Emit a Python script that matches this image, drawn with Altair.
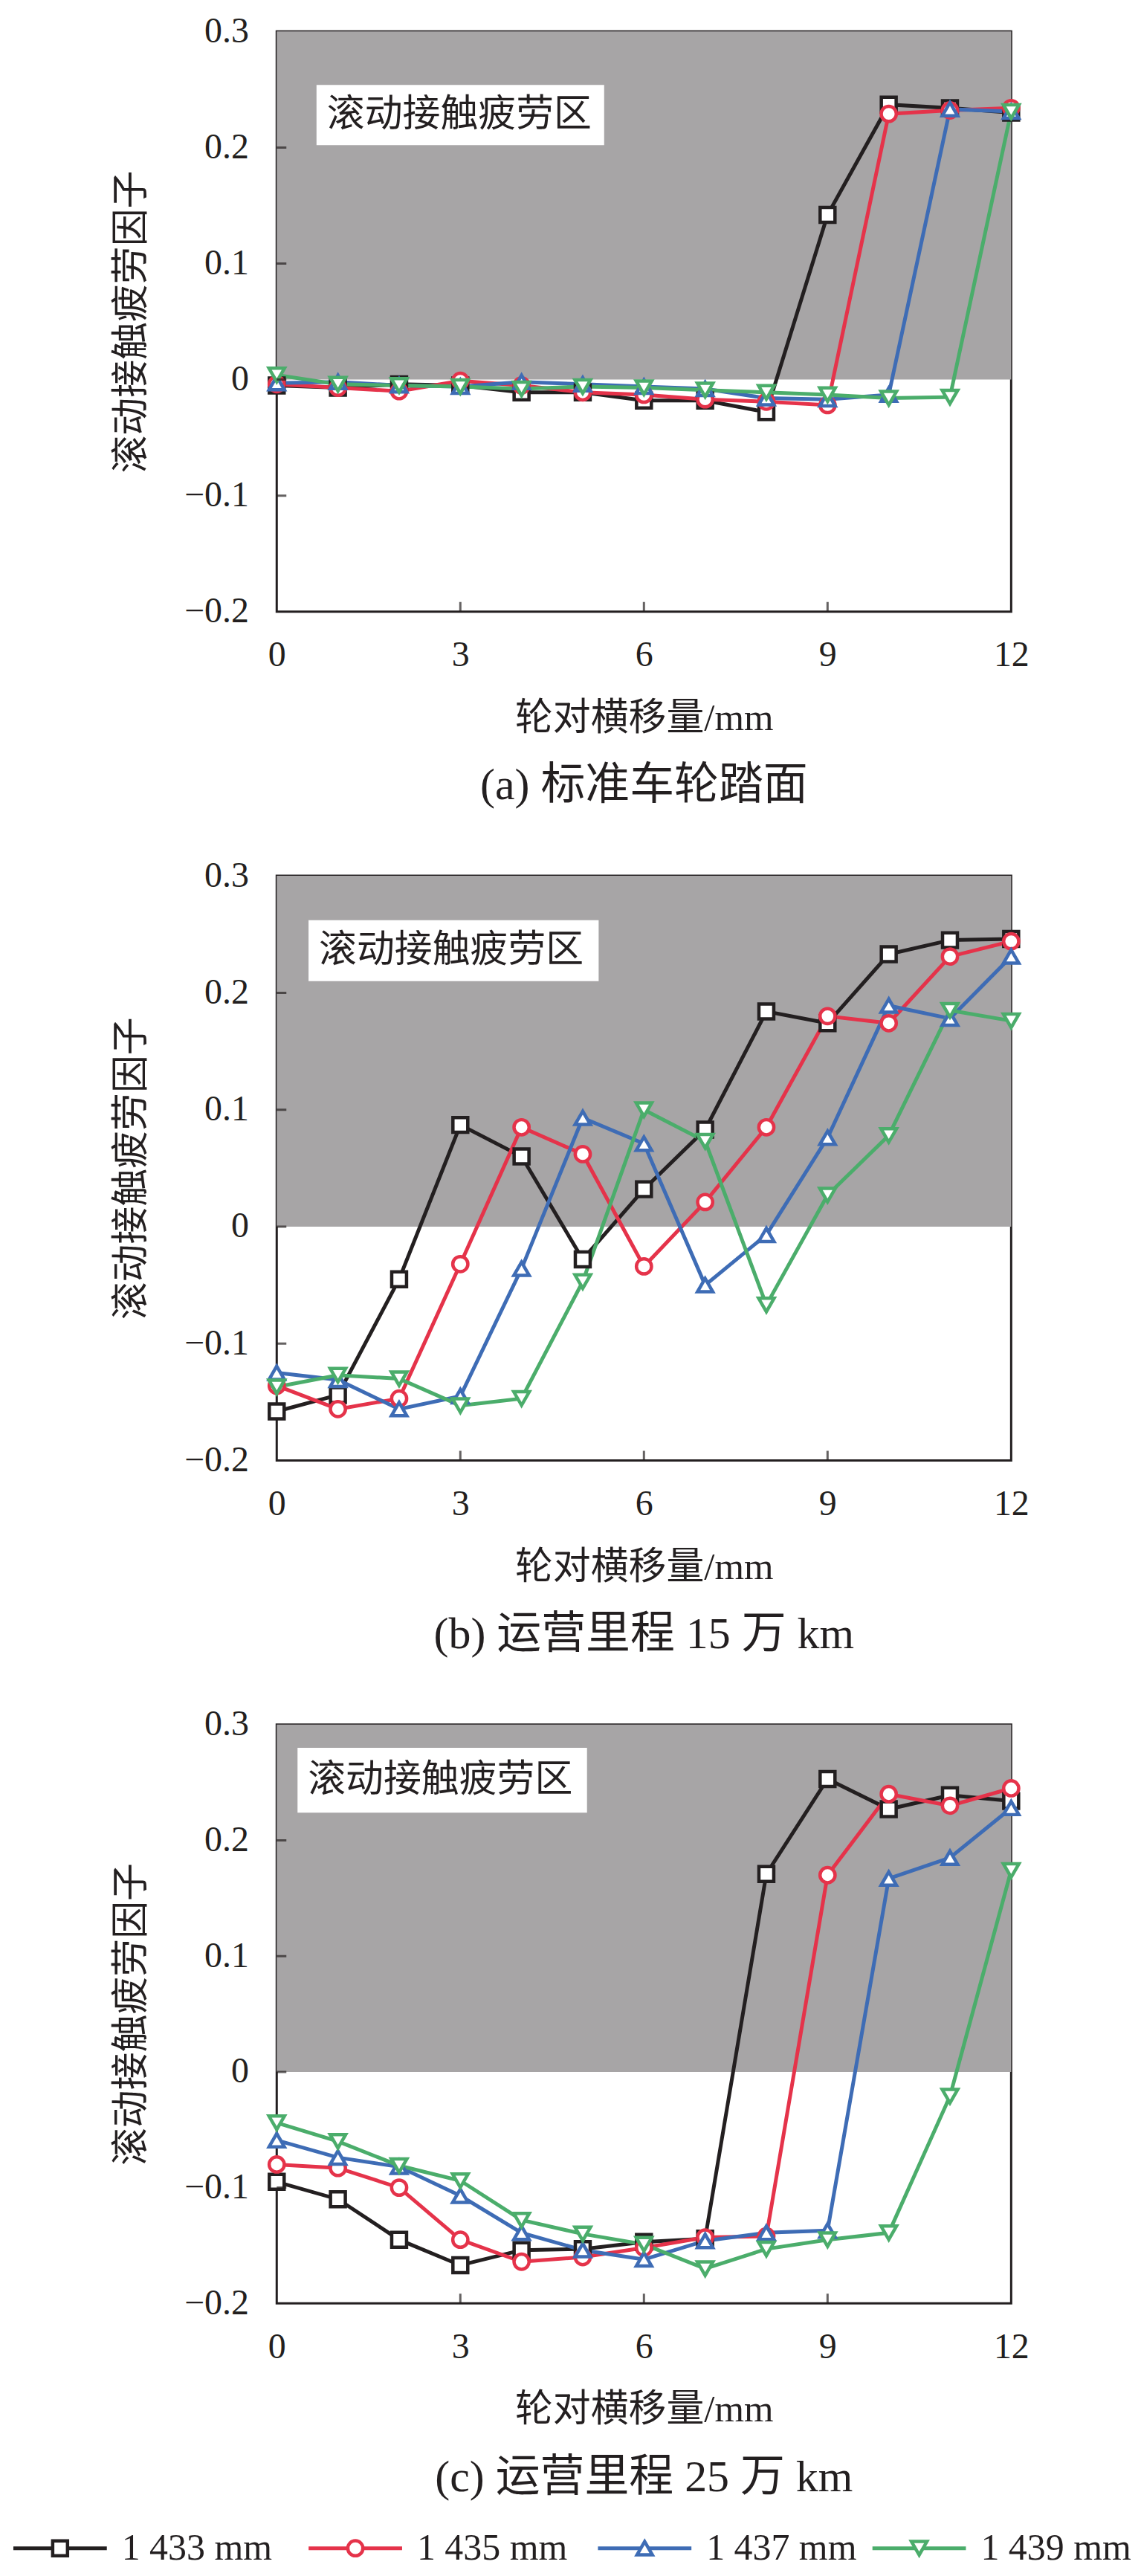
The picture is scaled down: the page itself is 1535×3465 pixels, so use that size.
import altair as alt
import pandas as pd

X = list(range(13))
SERIES = ["1 433 mm", "1 435 mm", "1 437 mm", "1 439 mm"]
COLORS = ["#231f20", "#e5334a", "#3e6cb5", "#4bad6b"]
SHAPES = ["square", "circle", "triangle-up", "triangle-down"]
SIZES = [400, 440, 620, 620]

# (a) standard wheel tread
A_1433 = [-0.005, -0.007, -0.004, -0.005, -0.011, -0.011, -0.018, -0.018, -0.028, 0.142, 0.237, 0.234, 0.230]
A_1435 = [-0.004, -0.007, -0.010, -0.001, -0.005, -0.011, -0.013, -0.017, -0.019, -0.022, 0.229, 0.232, 0.234]
A_1437 = [-0.003, -0.002, -0.005, -0.006, -0.002, -0.004, -0.006, -0.008, -0.016, -0.017, -0.013, 0.233, 0.231]
A_1439 = [0.004, -0.004, -0.005, -0.006, -0.008, -0.006, -0.007, -0.009, -0.011, -0.013, -0.016, -0.015, 0.231]

# (b) 150 000 km
B_1433 = [-0.158, -0.144, -0.045, 0.087, 0.060, -0.028, 0.032, 0.083, 0.184, 0.174, 0.233, 0.245, 0.246]
B_1435 = [-0.136, -0.156, -0.147, -0.032, 0.085, 0.062, -0.034, 0.021, 0.085, 0.180, 0.174, 0.231, 0.244]
B_1437 = [-0.125, -0.131, -0.156, -0.145, -0.036, 0.093, 0.071, -0.050, -0.007, 0.076, 0.189, 0.178, 0.231]
B_1439 = [-0.137, -0.127, -0.130, -0.153, -0.147, -0.047, 0.100, 0.073, -0.067, 0.027, 0.078, 0.185, 0.176]

# (c) 250 000 km
C_1433 = [-0.095, -0.110, -0.145, -0.167, -0.154, -0.153, -0.147, -0.144, 0.171, 0.253, 0.227, 0.239, 0.234]
C_1435 = [-0.080, -0.083, -0.100, -0.145, -0.164, -0.160, -0.152, -0.143, -0.142, 0.170, 0.240, 0.230, 0.245]
C_1437 = [-0.059, -0.074, -0.082, -0.107, -0.139, -0.154, -0.162, -0.146, -0.139, -0.137, 0.167, 0.185, 0.228]
C_1439 = [-0.044, -0.060, -0.081, -0.094, -0.128, -0.140, -0.149, -0.170, -0.153, -0.145, -0.139, -0.021, 0.174]

CAPTIONS = ["(a) 标准车轮踏面", "(b) 运营里程 15 万 km", "(c) 运营里程 25 万 km"]
ZONE_LABEL = "滚动接触疲劳区"
BOX_X0 = [0.65, 0.52, 0.34]
BOX_X1 = [5.35, 5.26, 5.07]
BOX_Y0 = [0.202, 0.210, 0.224]
BOX_Y1 = [0.254, 0.262, 0.280]
X_TICKS = [0, 3, 6, 9, 12]
Y_TICKS = [-0.2, -0.1, 0, 0.1, 0.2, 0.3]
X_INNER = [3, 6, 9]
Y_INNER = [-0.1, 0, 0.1, 0.2]
X_TITLE = "轮对横移量/mm"
Y_TITLE = "滚动接触疲劳因子"

BLACK = "#231f20"
GRAY = "#a7a5a6"
FONT = "Liberation Serif, Noto Sans CJK SC"
W = 990
HEIGHTS = [782, 788, 780]

color_scale = alt.Scale(domain=SERIES, range=COLORS)
shape_scale = alt.Scale(domain=SERIES, range=SHAPES)
size_scale = alt.Scale(domain=SERIES, range=SIZES)

XS = alt.Scale(domain=[0, 12], nice=False, zero=False)
YS = alt.Scale(domain=[-0.2, 0.3], nice=False, zero=False)
XAXIS = alt.Axis(values=X_TICKS, format="d", title=X_TITLE, domain=False, ticks=False,
                 grid=False, labelFontSize=48, labelPadding=35, titleFontSize=51,
                 titlePadding=36, labelFlush=False)
YAXIS = alt.Axis(values=Y_TICKS, format=".1~f", title=Y_TITLE, domain=False, ticks=False,
                 grid=False, labelFontSize=48, labelPadding=38, titleFontSize=51,
                 titlePadding=44, labelFlush=False)


def ex(field):
    return alt.X(field, scale=XS, axis=XAXIS)


def ey(field):
    return alt.Y(field, scale=YS, axis=YAXIS)


def panel(vals, i):
    rows = []
    for s, v in zip(SERIES, vals):
        for x, y in zip(X, v):
            rows.append({"series": s, "x": x, "y": y})
    df = pd.DataFrame(rows)

    zone_df = pd.DataFrame({"x0": [X_TICKS[0]], "x1": [X_TICKS[-1]], "y0": [0.0], "y1": [Y_TICKS[-1]]})
    zone = alt.Chart(zone_df).mark_rect(color=GRAY).encode(
        x=ex("x0:Q"), x2="x1:Q", y=ey("y0:Q"), y2="y1:Q")

    box_df = pd.DataFrame({"x0": [BOX_X0[i]], "x1": [BOX_X1[i]], "y0": [BOX_Y0[i]],
                           "y1": [BOX_Y1[i]], "ym": [(BOX_Y0[i] + BOX_Y1[i]) / 2],
                           "t": [ZONE_LABEL]})
    box = alt.Chart(box_df).mark_rect(color="white").encode(
        x=ex("x0:Q"), x2="x1:Q", y=ey("y0:Q"), y2="y1:Q")
    box_text = alt.Chart(box_df).mark_text(align="left", baseline="middle", dx=14,
                                           fontSize=51, font=FONT, color=BLACK).encode(
        x=ex("x0:Q"), y=ey("ym:Q"), text="t:N")

    lines = alt.Chart(df).mark_line(strokeWidth=5).encode(
        x=ex("x:Q"), y=ey("y:Q"),
        color=alt.Color("series:N", scale=color_scale, legend=None),
        detail="series:N")
    points = alt.Chart(df).mark_point(filled=False, fill="white", fillOpacity=1, opacity=1,
                                      strokeWidth=4.5).encode(
        x=ex("x:Q"), y=ey("y:Q"),
        color=alt.Color("series:N", scale=color_scale, legend=None),
        shape=alt.Shape("series:N", scale=shape_scale, legend=None),
        size=alt.Size("series:O", scale=size_scale, sort=SERIES, legend=None))

    xt_df = pd.DataFrame({"t": X_INNER, "b": [Y_TICKS[0]] * len(X_INNER)})
    xt = alt.Chart(xt_df).mark_tick(
        orient="vertical", size=26, thickness=3, clip=True, color=BLACK).encode(
        x=ex("t:Q"), y=ey("b:Q"))
    yt_df = pd.DataFrame({"t": Y_INNER, "b": [X_TICKS[0]] * len(Y_INNER)})
    yt = alt.Chart(yt_df).mark_tick(
        orient="horizontal", size=26, thickness=3, clip=True, color=BLACK).encode(
        y=ey("t:Q"), x=ex("b:Q"))

    return alt.layer(zone, box, box_text, lines, points, xt, yt).properties(
        width=W, height=HEIGHTS[i],
        title=alt.TitleParams(CAPTIONS[i], orient="bottom", anchor="middle", fontSize=60,
                              offset=37, font=FONT, fontWeight="normal", color=BLACK))


pa = panel([A_1433, A_1435, A_1437, A_1439], 0)
pb = panel([B_1433, B_1435, B_1437, B_1439], 1)
pc = panel([C_1433, C_1435, C_1437, C_1439], 2)

leg_df = pd.DataFrame({"series": SERIES, "idx": list(range(len(SERIES)))})
lx = alt.Scale(domain=[0, 1, 2, 3], range=[-355, 43, 433, 803], zero=False, nice=False)
lbase = alt.Chart(leg_df)
l_rule = lbase.mark_rule(strokeWidth=5, x2Offset=126).encode(
    x=alt.X("idx:Q", scale=lx, axis=None), x2="idx:Q", y=alt.value(-26),
    color=alt.Color("series:N", scale=color_scale, legend=None))
l_pt = lbase.mark_point(filled=False, fill="white", fillOpacity=1, opacity=1, strokeWidth=4.5,
                        xOffset=63).encode(
    x=alt.X("idx:Q", scale=lx, axis=None), y=alt.value(-26),
    color=alt.Color("series:N", scale=color_scale, legend=None),
    shape=alt.Shape("series:N", scale=shape_scale, legend=None),
    size=alt.Size("series:O", scale=size_scale, sort=SERIES, legend=None))
l_txt = lbase.mark_text(align="left", baseline="middle", xOffset=146, fontSize=50,
                        font=FONT, color=BLACK).encode(
    x=alt.X("idx:Q", scale=lx, axis=None), y=alt.value(-26), text="series:N")
legend = alt.layer(l_rule, l_pt, l_txt).properties(width=W, height=1, view=alt.ViewBackground(stroke=None))

chart = alt.vconcat(pa, pb, pc, legend, spacing=356, bounds="flush").properties(
    padding={"left": 7, "top": 5, "right": 5, "bottom": 5}
).configure_view(stroke=BLACK, strokeWidth=3).configure_axis(
    labelFont=FONT, titleFont=FONT, labelColor=BLACK, titleColor=BLACK,
    titleFontWeight="normal"
)

chart.save("out.html", embed_options={"renderer": "svg", "actions": False})
